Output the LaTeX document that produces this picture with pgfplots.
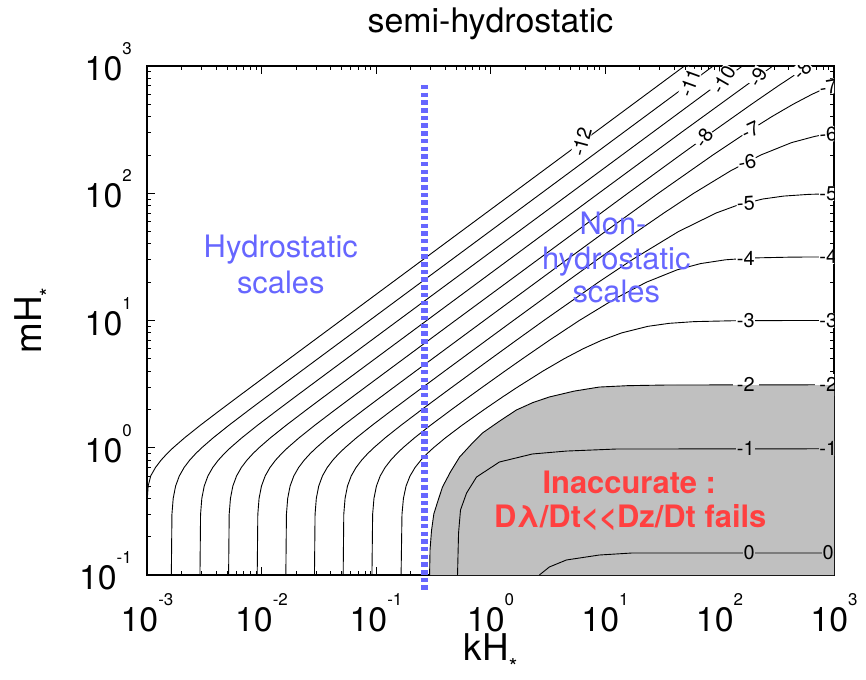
\documentclass[border=0pt]{standalone}
\usepackage{fontspec}
\setmainfont{TeX Gyre Heros}
\usepackage{pgfplots}
\pgfplotsset{compat=1.18}
\definecolor{cgray}{RGB}{192,192,192}
\definecolor{cblue}{RGB}{102,102,255}
\definecolor{cred}{RGB}{255,64,64}
\newcommand{\ftick}{\fontsize{34}{34}\selectfont}
\newcommand{\tl}[1]{10\raisebox{26bp}{\fontsize{17}{17}\selectfont #1}}
\newcommand{\flab}{\fontsize{37}{37}\selectfont}
\tikzset{clab/.style={font=\fontsize{20}{20}\selectfont, fill=white, inner sep=0.5bp},
         gclab/.style={font=\fontsize{20}{20}\selectfont, fill=cgray, inner sep=0.5bp}}
\begin{document}
\begin{tikzpicture}
\begin{axis}[
  width=687bp, height=509bp, scale only axis,
  xmin=-3, xmax=3, ymin=-1, ymax=3,
  clip=false,
  axis line style={line width=1.2bp},
  every tick/.style={black, line width=0.8bp},
  major tick length=8bp, minor tick length=4bp,
  tick align=inside,
  xtick={-3,-2,-1,0,1,2,3}, ytick={-1,0,1,2,3},
  xticklabels={\tl{-3},\tl{-2},\tl{-1},\tl{0},\tl{1},\tl{2},\tl{3}},
  yticklabels={\tl{-1},\tl{0},\tl{1},\tl{2},\tl{3}},
  minor xtick={-2.699,-2.5229,-2.3979,-2.301,-2.2218,-2.1549,-2.0969,-2.0458,
    -1.699,-1.5229,-1.3979,-1.301,-1.2218,-1.1549,-1.0969,-1.0458,
    -0.699,-0.5229,-0.3979,-0.301,-0.2218,-0.1549,-0.0969,-0.0458,
    0.301,0.4771,0.6021,0.699,0.7782,0.8451,0.9031,0.9542,
    1.301,1.4771,1.6021,1.699,1.7782,1.8451,1.9031,1.9542,
    2.301,2.4771,2.6021,2.699,2.7782,2.8451,2.9031,2.9542},
  minor ytick={-0.699,-0.5229,-0.3979,-0.301,-0.2218,-0.1549,-0.0969,-0.0458,
    0.301,0.4771,0.6021,0.699,0.7782,0.8451,0.9031,0.9542,
    1.301,1.4771,1.6021,1.699,1.7782,1.8451,1.9031,1.9542,
    2.301,2.4771,2.6021,2.699,2.7782,2.8451,2.9031,2.9542},
  tick label style={font=\ftick, inner sep=0pt},
  xticklabel style={anchor=north, yshift=-18bp},
  yticklabel style={anchor=east, xshift=-15bp, yshift=4bp},
  cont/.style={black, line width=0.9bp, mark=none},
]
% shaded inaccurate region (inside the -2 contour)
\addplot[fill=cgray, draw=none, mark=none] coordinates {
 (-0.532,-1) (-0.528,-0.8) (-0.515,-0.65) (-0.495,-0.52) (-0.46,-0.42) (-0.419,-0.308)
 (-0.35,-0.19) (-0.27,-0.073) (-0.17,0.025) (-0.07,0.116) (0.08,0.21) (0.227,0.297)
 (0.37,0.355) (0.514,0.399) (0.73,0.445) (0.95,0.477) (1.2,0.488) (1.535,0.493) (3,0.495)
 (3,-1)} -- cycle;
% contours (log10 kH*, log10 mH*)
\addplot[cont] coordinates {(-3.0,-0.44) (-2.99,-0.301) (-2.9679,-0.2218) (-2.9256,-0.1549) (-2.8766,-0.0969) (-2.8245,-0.0458) (-2.7717,0) (-2.6703,0.0792) (-2.5354,0.1761) (-2.3531,0.301) (-2.2092,0.3979) (-2.091,0.4771) (-1.9039,0.6021) (-1.7586,0.699) (-1.5395,0.8451) (-1.3071,1) (1.694,3)};
\addplot[cont] coordinates {(-2.7874,-1) (-2.7822,-0.5229) (-2.7712,-0.3979) (-2.7502,-0.301) (-2.7179,-0.2218) (-2.6756,-0.1549) (-2.6266,-0.0969) (-2.5745,-0.0458) (-2.5217,0) (-2.4203,0.0792) (-2.2854,0.1761) (-2.1031,0.301) (-1.9592,0.3979) (-1.841,0.4771) (-1.6539,0.6021) (-1.5086,0.699) (-1.2895,0.8451) (-1.0571,1) (1.945,3)};
\addplot[cont] coordinates {(-2.5374,-1) (-2.5322,-0.5229) (-2.5212,-0.3979) (-2.5002,-0.301) (-2.4679,-0.2218) (-2.4256,-0.1549) (-2.3766,-0.0969) (-2.3245,-0.0458) (-2.2717,0) (-2.1703,0.0792) (-2.0354,0.1761) (-1.8531,0.301) (-1.7092,0.3979) (-1.591,0.4771) (-1.4039,0.6021) (-1.2586,0.699) (-1.0395,0.8451) (-0.8071,1) (2.2,3)};
\addplot[cont] coordinates {(-2.2874,-1) (-2.2822,-0.5229) (-2.2712,-0.3979) (-2.2502,-0.301) (-2.2179,-0.2218) (-2.1756,-0.1549) (-2.1266,-0.0969) (-2.0745,-0.0458) (-2.0217,0) (-1.9203,0.0792) (-1.7854,0.1761) (-1.6031,0.301) (-1.4592,0.3979) (-1.341,0.4771) (-1.1539,0.6021) (-1.0086,0.699) (-0.7895,0.8451) (-0.5571,1) (0.9451,2) (1.6652,2.4771) (2.4658,3)};
\addplot[cont] coordinates {(-2.0374,-1) (-2.0322,-0.5229) (-2.0212,-0.3979) (-2.0002,-0.301) (-1.9679,-0.2218) (-1.9256,-0.1549) (-1.8766,-0.0969) (-1.8245,-0.0458) (-1.7717,0) (-1.6703,0.0792) (-1.5354,0.1761) (-1.3531,0.301) (-1.2092,0.3979) (-1.091,0.4771) (-0.9039,0.6021) (-0.7586,0.699) (-0.5395,0.8451) (-0.3071,1) (1.1999,2) (1.6586,2.301) (1.9303,2.4771) (2.2788,2.699) (2.5149,2.8451) (2.7754,3)};
\addplot[cont] coordinates {(-1.7874,-1) (-1.7822,-0.5229) (-1.7712,-0.3979) (-1.7502,-0.301) (-1.7179,-0.2218) (-1.6756,-0.1549) (-1.6266,-0.0969) (-1.5745,-0.0458) (-1.5217,0) (-1.4203,0.0792) (-1.2854,0.1761) (-1.1031,0.301) (-0.9592,0.3979) (-0.841,0.4771) (-0.6539,0.6021) (-0.5075,0.699) (-0.2881,0.8451) (-0.0549,1) (0.6652,1.4771) (1.0025,1.699) (1.4658,2) (1.9429,2.301) (2.2361,2.4771) (2.4569,2.6021) (2.6419,2.699) (2.8092,2.7782) (2.972,2.8451) (3,2.854)};
\addplot[cont] coordinates {(-1.5374,-1) (-1.5322,-0.5229) (-1.5212,-0.3979) (-1.5002,-0.301) (-1.4679,-0.2218) (-1.4256,-0.1549) (-1.3766,-0.0969) (-1.3245,-0.0458) (-1.271,0) (-1.1696,0.0792) (-1.0344,0.1761) (-0.8518,0.301) (-0.7077,0.3979) (-0.5889,0.4771) (-0.4014,0.6021) (-0.2551,0.699) (-0.0347,0.8451) (0.1999,1) (0.6586,1.301) (0.9303,1.4771) (1.2788,1.699) (1.5149,1.8451) (1.7754,2) (2.0967,2.1761) (2.3617,2.301) (2.6292,2.3979) (2.834,2.4472) (2.911,2.46) (3,2.4715)};
\addplot[cont] coordinates {(-1.2868,-1) (-1.2814,-0.5229) (-1.2701,-0.3979) (-1.249,-0.301) (-1.2165,-0.2218) (-1.1741,-0.1549) (-1.1248,-0.0969) (-1.0724,-0.0458) (-1.0194,0) (-0.9178,0.0792) (-0.7821,0.1761) (-0.5987,0.301) (-0.4537,0.3979) (-0.3344,0.4771) (-0.145,0.6021) (0.0025,0.699) (0.2263,0.8451) (0.4658,1) (0.9429,1.301) (1.2361,1.4771) (1.6419,1.699) (1.972,1.8451) (2.1471,1.9031) (2.3742,1.9542) (2.56,1.9777) (2.7792,1.9912) (3,1.9967)};
\addplot[cont] coordinates {(-1.0354,-1) (-1.0294,-0.5229) (-1.0178,-0.3979) (-0.9962,-0.301) (-0.9633,-0.2218) (-0.9204,-0.1549) (-0.8707,-0.0969) (-0.8179,-0.0458) (-0.7645,0) (-0.6617,0.0792) (-0.5247,0.1761) (-0.3388,0.301) (-0.1912,0.3979) (-0.0693,0.4771) (0.1255,0.6021) (0.2788,0.699) (0.5148,0.8451) (0.7754,1) (1.0966,1.1761) (1.3617,1.301) (1.6292,1.3979) (1.8341,1.4472) (2.0531,1.4771) (2.2817,1.4914) (2.641,1.4983) (3,1.4997)};
\addplot[cont] coordinates {(-0.7809,-1) (-0.7731,-0.5229) (-0.7604,-0.3979) (-0.7374,-0.301) (-0.703,-0.2218) (-0.6586,-0.1549) (-0.6074,-0.0969) (-0.553,-0.0458) (-0.4979,0) (-0.3918,0.0792) (-0.2494,0.1761) (-0.054,0.301) (0.1036,0.3979) (0.237,0.4771) (0.4574,0.6021) (0.6422,0.699) (0.8094,0.7782) (0.9724,0.8451) (1.1472,0.9031) (1.3751,0.9542) (1.5602,0.9777) (1.7796,0.9912) (2.1077,0.9978) (2.5496,0.9996) (3,0.9998)};
\addplot[cont] coordinates {(-0.532,-1) (-0.528,-0.8) (-0.515,-0.65) (-0.495,-0.52) (-0.46,-0.42) (-0.419,-0.308) (-0.35,-0.19) (-0.27,-0.073) (-0.17,0.025) (-0.07,0.116) (0.08,0.21) (0.227,0.297) (0.37,0.355) (0.514,0.399) (0.73,0.445) (0.95,0.477) (1.2,0.488) (1.535,0.493) (3,0.495)};
\addplot[cont] coordinates {(-0.288,-1) (-0.279,-0.67) (-0.262,-0.489) (-0.209,-0.356) (-0.122,-0.23) (0.078,-0.112) (0.366,-0.049) (0.663,-0.026) (1.099,-0.01) (3,-0.008)};
\addplot[cont] coordinates {(0.427,-1) (0.514,-0.937) (0.663,-0.882) (0.95,-0.843) (1.238,-0.827) (3,-0.827)};
% contour labels
\begin{scope}
\clip (rel axis cs:0,0) rectangle (rel axis cs:1,1);
\node[clab, rotate=75] at (axis cs:0.796,2.403) {-12};
\node[clab, rotate=70] at (axis cs:1.742,2.866) {-11};
\node[clab, rotate=60] at (axis cs:2.034,2.89) {-10};
\node[clab, rotate=60] at (axis cs:2.333,2.914) {-9};
\node[clab, rotate=55] at (axis cs:1.863,2.434) {-8};
\node[clab, rotate=45] at (axis cs:2.722,2.969) {-8};
\node[clab, rotate=25] at (axis cs:2.27,2.496) {-7};
\node[clab, rotate=10] at (axis cs:2.95,2.836) {-7};
\node[clab, rotate=12] at (axis cs:2.24,2.2435) {-6};
\node[clab, rotate=5] at (axis cs:2.95,2.465) {-6};
\node[clab, rotate=4] at (axis cs:2.23,1.922) {-5};
\node[clab] at (axis cs:2.95,1.9955) {-5};
\node[clab] at (axis cs:2.23,1.488) {-4};
\node[clab] at (axis cs:2.95,1.4996) {-4};
\node[clab] at (axis cs:2.23,0.9983) {-3};
\node[clab] at (axis cs:2.95,0.9998) {-3};
\node[fill=white, anchor=south, minimum width=26bp, minimum height=11bp, inner sep=0pt] at (axis cs:2.23,0.495) {};
\node[fill=cgray, anchor=north, minimum width=26bp, minimum height=11bp, inner sep=0pt] at (axis cs:2.23,0.495) {};
\node[clab, fill=none] at (axis cs:2.23,0.495) {-2};
\node[fill=white, anchor=south, minimum width=26bp, minimum height=11bp, inner sep=0pt] at (axis cs:2.95,0.495) {};
\node[fill=cgray, anchor=north, minimum width=26bp, minimum height=11bp, inner sep=0pt] at (axis cs:2.95,0.495) {};
\node[clab, fill=none] at (axis cs:2.95,0.495) {-2};
\node[gclab] at (axis cs:2.23,-0.009) {-1};
\node[gclab] at (axis cs:2.95,-0.008) {-1};
\node[gclab] at (axis cs:2.259,-0.827) {0};
\node[gclab] at (axis cs:2.95,-0.827) {0};
\end{scope}
% hydrostatic limit
\addplot[cblue, line width=7bp, dash pattern=on 4.5bp off 3.2bp, mark=none] coordinates {(-0.5757,2.851) (-0.5757,-1.118)};
% annotations
\node[anchor=base, text=cblue, font=\fontsize{31}{31}\selectfont] at (axis cs:-1.8314,1.499) {Hydrostatic};
\node[anchor=base, text=cblue, font=\fontsize{31}{31}\selectfont] at (axis cs:-1.8314,1.216) {scales};
\node[anchor=base, text=cblue, font=\fontsize{31}{31}\selectfont] at (axis cs:1.07,1.672) {Non-};
\node[anchor=base, text=cblue, font=\fontsize{31}{31}\selectfont] at (axis cs:1.0988,1.404) {hydrostatic};
\node[anchor=base, text=cblue, font=\fontsize{31}{31}\selectfont] at (axis cs:1.0988,1.145) {scales};
\node[anchor=base, text=cred, font=\fontsize{31}{31}\selectfont\bfseries] at (axis cs:1.212,-0.3556) {Inaccurate :};
\node[anchor=base, text=cred, font=\fontsize{31}{31}\selectfont\bfseries] at (axis cs:1.221,-0.623) {Dλ/Dt\mbox{<}\mbox{<}Dz/Dt fails};
% title and axis labels
\node[anchor=base, font=\fontsize{34}{34}\selectfont] at ([yshift=33bp]rel axis cs:0.5,1) {semi-hydrostatic};
\node[anchor=base, font=\flab] at ([yshift=-85bp]rel axis cs:0.5,0) {kH\raisebox{-14bp}{\fontsize{22}{22}\selectfont *}};
\node[anchor=base, rotate=90, font=\flab] at ([xshift=-105bp]rel axis cs:0,0.5) {mH\raisebox{-14bp}{\fontsize{22}{22}\selectfont *}};
\end{axis}
\pgfresetboundingbox
\path ([xshift=-147bp,yshift=-105bp]current axis.south west) rectangle ([xshift=32bp,yshift=66bp]current axis.north east);
\end{tikzpicture}
\end{document}
